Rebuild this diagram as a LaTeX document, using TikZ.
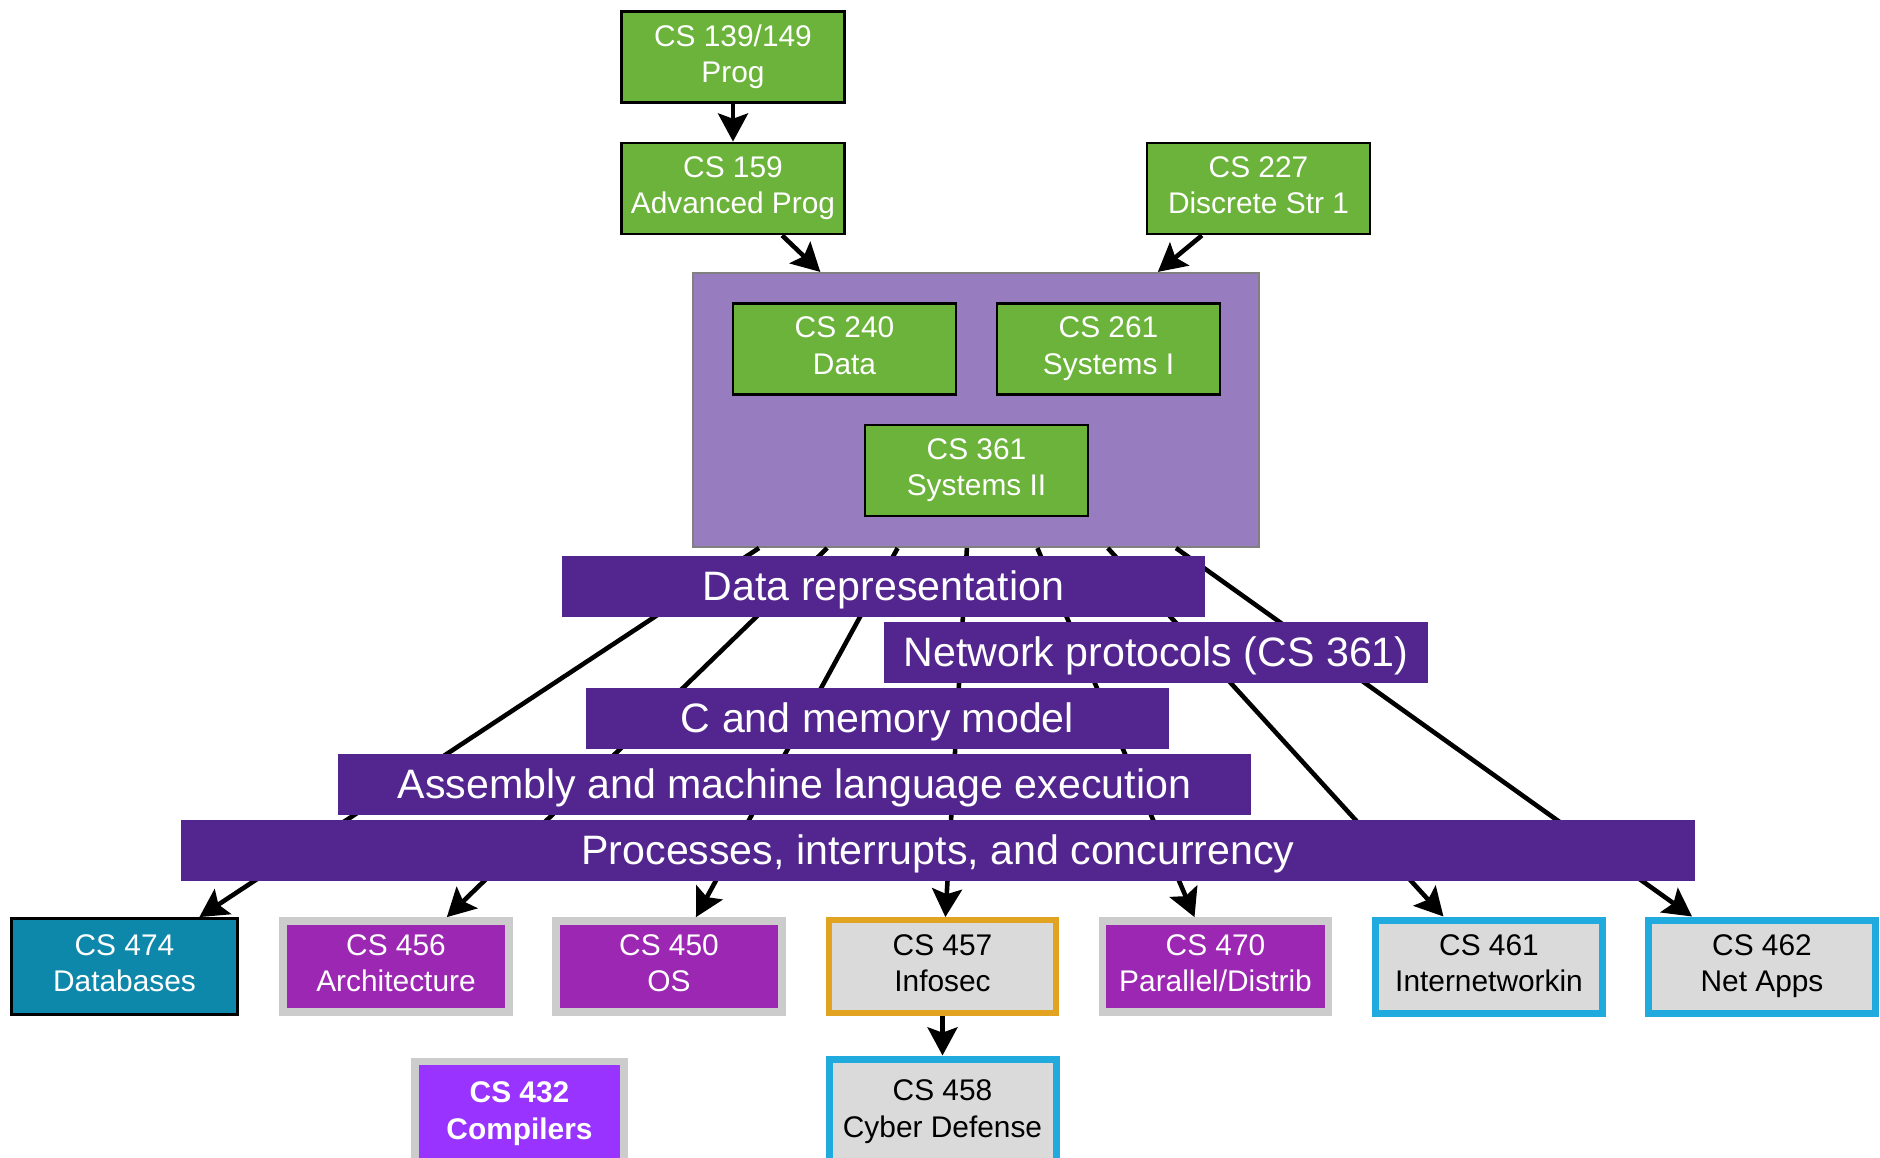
\documentclass[tikz,border=0pt]{standalone}
\usepackage{fontspec}
\setmainfont{Liberation Sans}
\usetikzlibrary{arrows.meta,calc}
\definecolor{cgreen}{RGB}{107,179,58}
\definecolor{clilac}{RGB}{151,125,192}
\definecolor{cband}{RGB}{82,38,142}
\definecolor{cteal}{RGB}{14,136,170}
\definecolor{cviolet}{RGB}{156,39,178}
\definecolor{cbright}{RGB}{153,51,255}
\definecolor{cframe}{RGB}{204,204,204}
\definecolor{cpale}{RGB}{218,218,218}
\definecolor{cgold}{RGB}{226,164,32}
\definecolor{cblue}{RGB}{32,170,222}
\tikzset{
  course/.style={draw=black, line width=0.8pt, minimum width=2.23cm,
    minimum height=0.91cm, inner sep=0pt, align=center,
    font=\fontsize{8.5}{10.3}\selectfont,
    execute at begin node={\rule{0pt}{9pt}},
    execute at end node={\rule[-2pt]{0pt}{2pt}}},
  core/.style={course, fill=cgreen, text=white},
  sys/.style={course, fill=cviolet, draw=cframe, line width=2.2pt,
    text=white, minimum width=2.26cm},
  sec/.style={course, fill=cpale, draw=cgold, line width=1.7pt,
    minimum width=2.27cm, minimum height=0.93cm},
  net/.style={sec, draw=cblue, line width=2pt},
  topic/.style={fill=cband, text=white, inner sep=0pt, minimum height=0.61cm,
    text height=9.5pt, text depth=1.5pt,
    font=\fontsize{11.7}{14}\selectfont},
  arr/.style={-{Stealth[length=8pt,width=8.5pt,inset=1.5pt]}, line width=1.3pt},
}
\begin{document}
\begin{tikzpicture}
      \useasboundingbox (0,0) rectangle (18.8,-11.57);
      \draw
        (7.33,-0.57) node[core] (139){CS 139/149\\Prog}
        (7.33,-1.885) node[core] (159){CS 159\\Advanced Prog}
        (12.585,-1.885) node[core] (227){CS 227\\Discrete Str 1};
      \node[draw=gray, line width=0.6pt, fill=clilac, minimum width=5.66cm,
        minimum height=2.74cm] (sys) at (9.76,-4.10) {};
      \draw
        (8.445,-3.49) node[core] (240){CS 240\\Data}
        (11.085,-3.49) node[core] (261){CS 261\\Systems I}
        (9.765,-4.705) node[core] (361){CS 361\\Systems II};
      \draw
        (1.245,-9.665) node[course, fill=cteal, text=white, minimum width=2.26cm,
          minimum height=0.96cm] (474){CS 474\\Databases}
        (3.96,-9.665) node[sys] (456){CS 456\\Architecture}
        (6.69,-9.665) node[sys] (450){CS 450\\OS}
        (9.425,-9.665) node[sec] (457){CS 457\\Infosec}
        (12.155,-9.665) node[sys] (470){CS 470\\Parallel/Distrib}
        (14.89,-9.665) node[net] (461){CS 461\\Internetworkin}
        (17.62,-9.665) node[net] (462){CS 462\\Net Apps}
        (9.425,-11.12) node[net, minimum height=1.06cm] (458){CS 458\\Cyber Defense}
        (5.195,-11.14) node[sys, fill=cbright, minimum width=2.09cm,
          minimum height=1.05cm,
          font=\fontsize{8.5}{10.3}\selectfont\bfseries] (432){CS 432\\Compilers};
      \begin{scope}[arr]
        \draw (139) to (159);
        \draw (159) to ($(sys.north west)!0.226!(sys.north east)$);
        \draw (227) to ($(sys.north west)!0.82!(sys.north east)$);
        \draw ($(sys.south west)!0.118!(sys.south east)$) to (474);
        \draw ($(sys.south west)!0.238!(sys.south east)$) to (456);
        \draw ($(sys.south west)!0.362!(sys.south east)$) to (450);
        \draw ($(sys.south west)!0.484!(sys.south east)$) to (457);
        \draw ($(sys.south west)!0.608!(sys.south east)$) to (470);
        \draw ($(sys.south west)!0.732!(sys.south east)$) to (461);
        \draw ($(sys.south west)!0.852!(sys.south east)$) to (462);
        \draw (457) to (458);
      \end{scope}
      \draw
        (8.835,-5.865) node[topic, minimum width=6.43cm] (data){Data representation}
        (11.56,-6.525) node[topic, minimum width=5.44cm] (net){Network protocols (CS 361)}
        (8.775,-7.185) node[topic, minimum width=5.83cm] (cmem){C and memory model}
        (7.945,-7.845) node[topic, minimum width=9.13cm] (asm){Assembly and machine language execution}
        (9.38,-8.505) node[topic, minimum width=15.14cm] (proc){Processes, interrupts, and concurrency};
    \end{tikzpicture}
\end{document}
